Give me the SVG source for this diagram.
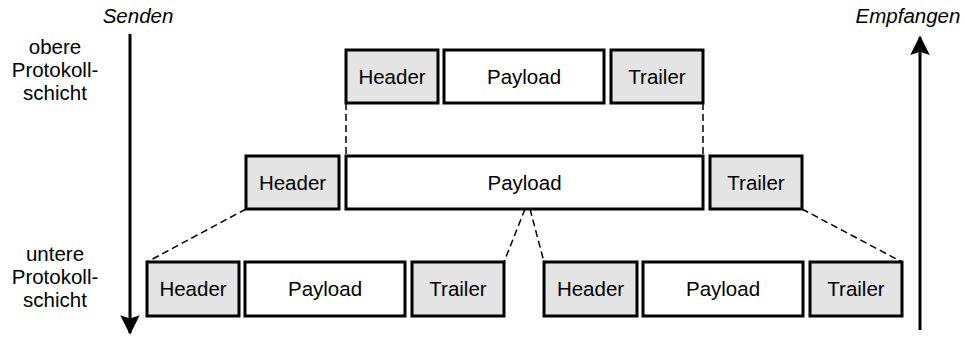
<svg xmlns="http://www.w3.org/2000/svg" width="965" height="341" viewBox="0 0 965 341">
<style>
text{font-family:"Liberation Sans",Arial,sans-serif;font-size:20.5px;fill:#000;text-anchor:middle}
.it{font-style:italic}
.g{fill:#e4e4e4;stroke:#000;stroke-width:3}
.w{fill:#fff;stroke:#000;stroke-width:3}
.d{fill:none;stroke:#000;stroke-width:1.5;stroke-dasharray:7,4}
.ax{fill:none;stroke:#000;stroke-width:3}
</style>
<defs>
<marker id="ah" viewBox="0 0 12 12" refX="11" refY="6" markerWidth="6.5" markerHeight="6.5" markerUnits="strokeWidth" orient="auto">
<path d="M0,0 L12,6 L0,12 L2,6 z" fill="#000"/>
</marker>
</defs>
<g id="labels">
<text class="it" x="138" y="23">Senden</text>
<text class="it" x="908" y="23">Empfangen</text>
<text x="55" y="54">obere</text>
<text x="55" y="77">Protokoll-</text>
<text x="55" y="100">schicht</text>
<text x="55" y="261">untere</text>
<text x="55" y="284">Protokoll-</text>
<text x="55" y="307">schicht</text>
</g>
<g id="connectors">
<line class="ax" x1="130" y1="34" x2="130" y2="333" marker-end="url(#ah)"/>
<line class="ax" x1="920" y1="330" x2="920" y2="37" marker-end="url(#ah)"/>
<line class="d" x1="346" y1="103" x2="346" y2="156"/>
<line class="d" x1="703" y1="103" x2="703" y2="156"/>
<line class="d" x1="246" y1="209" x2="147" y2="262"/>
<line class="d" x1="525" y1="209" x2="504" y2="262"/>
<line class="d" x1="530" y1="209" x2="544" y2="262"/>
<line class="d" x1="802" y1="209" x2="902" y2="262"/>
</g>
<g id="top-header"><rect class="g" x="346" y="50" width="92" height="53"/><text x="392" y="84">Header</text></g>
<g id="top-payload"><rect class="w" x="444" y="50" width="160" height="53"/><text x="524" y="84">Payload</text></g>
<g id="top-trailer"><rect class="g" x="611" y="50" width="92" height="53"/><text x="657" y="84">Trailer</text></g>
<g id="mid-header"><rect class="g" x="246" y="156" width="93" height="53"/><text x="292.5" y="190">Header</text></g>
<g id="mid-payload"><rect class="w" x="346" y="156" width="357" height="53"/><text x="524.5" y="190">Payload</text></g>
<g id="mid-trailer"><rect class="g" x="710" y="156" width="92" height="53"/><text x="756" y="190">Trailer</text></g>
<g id="bot1-header"><rect class="g" x="147" y="262" width="92" height="54"/><text x="193" y="296">Header</text></g>
<g id="bot1-payload"><rect class="w" x="245" y="262" width="160" height="54"/><text x="325" y="296">Payload</text></g>
<g id="bot1-trailer"><rect class="g" x="412" y="262" width="92" height="54"/><text x="458" y="296">Trailer</text></g>
<g id="bot2-header"><rect class="g" x="544" y="262" width="93" height="54"/><text x="590.5" y="296">Header</text></g>
<g id="bot2-payload"><rect class="w" x="643" y="262" width="160" height="54"/><text x="723" y="296">Payload</text></g>
<g id="bot2-trailer"><rect class="g" x="810" y="262" width="92" height="54"/><text x="856" y="296">Trailer</text></g>
</svg>
